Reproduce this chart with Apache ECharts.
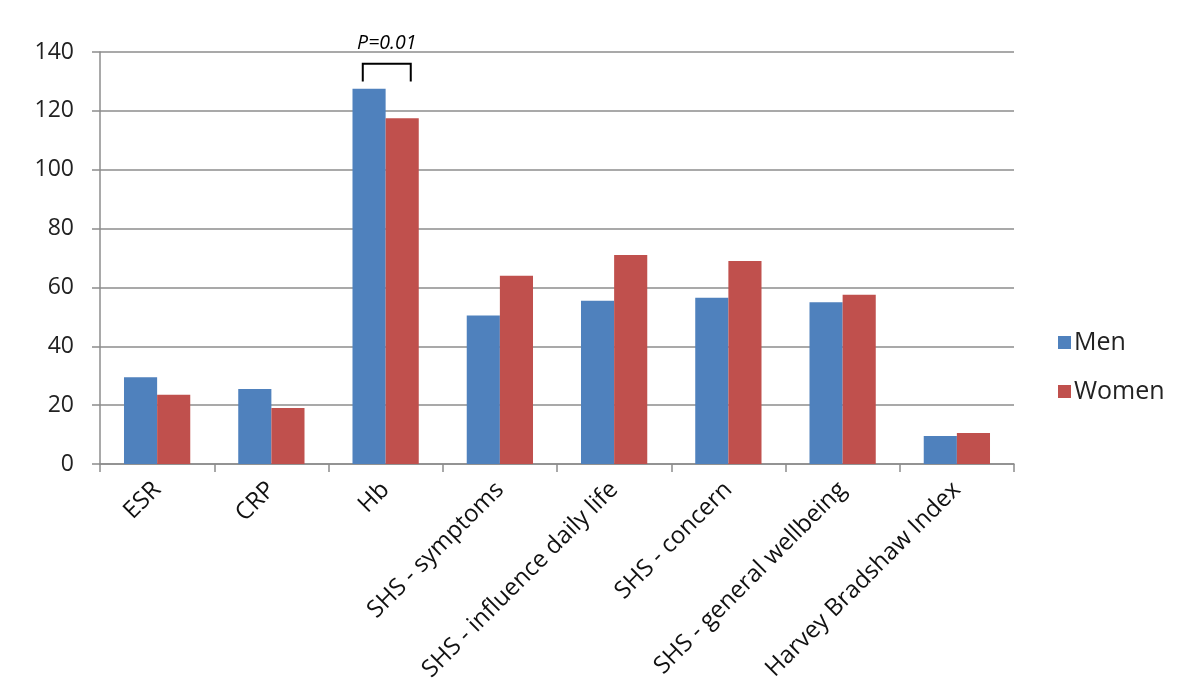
<!DOCTYPE html>
<html>
<head>
<meta charset="utf-8">
<script src="https://cdn.jsdelivr.net/npm/echarts@6/dist/echarts.min.js"></script>
<style>
  html, body { margin: 0; padding: 0; background: #fff; }
  #chart { width: 1200px; height: 698px; }
</style>
</head>
<body>
<div id="chart"></div>
<script>
var categories = ["ESR", "CRP", "Hb", "SHS - symptoms", "SHS - influence daily life", "SHS - concern", "SHS - general wellbeing", "Harvey Bradshaw Index"];
var menValues = [29.5, 25.5, 127.5, 50.5, 55.5, 56.5, 55, 9.5];
var womenValues = [23.5, 19, 117.5, 64, 71, 69, 57.5, 10.5];
// bracket over Hb: [category index, top value, bottom value]
var bracketData = [[2, 136, 130]];
var bracketLabel = "P=0.01";

var myChart = echarts.init(document.getElementById("chart"));
var fontFamily = "'Open Sans', 'Liberation Sans', sans-serif";
var option = {
  animation: false,
  color: ["#4F81BD", "#C0504D"],
  grid: { left: 100, right: 186, top: 52, bottom: 234 },
  legend: {
    orient: "vertical",
    left: 1053,
    top: 325,
    itemWidth: 13,
    itemHeight: 13,
    itemGap: 24,
    icon: "rect",
    textStyle: { fontSize: 25, color: "#222", fontFamily: fontFamily, padding: [0, 0, 0, -2] },
    data: ["Men", "Women"]
  },
  xAxis: {
    type: "category",
    data: categories,
    axisLine: { lineStyle: { color: "#8c8c8c", width: 1.5 } },
    axisTick: { show: true, length: 8, lineStyle: { color: "#8c8c8c", width: 1.5 } },
    axisLabel: {
      interval: 0,
      rotate: 45,
      fontSize: 24,
      color: "#111",
      fontFamily: fontFamily,
      margin: 22
    }
  },
  yAxis: {
    type: "value",
    min: 0,
    max: 140,
    interval: 20,
    axisLine: { show: true, lineStyle: { color: "#8c8c8c", width: 1.5 } },
    axisTick: { show: true, length: 8, lineStyle: { color: "#8c8c8c", width: 1.5 } },
    splitLine: { lineStyle: { color: "#8c8c8c", width: 1.5 } },
    axisLabel: { fontSize: 23, color: "#222", fontFamily: fontFamily, margin: 26 }
  },
  series: [
    {
      name: "Men",
      type: "bar",
      data: menValues,
      barGap: "0%",
      barCategoryGap: "42%"
    },
    {
      name: "Women",
      type: "bar",
      data: womenValues,
      barGap: "0%",
      barCategoryGap: "42%"
    },
    {
      name: "bracket",
      type: "custom",
      data: bracketData,
      z: 10,
      renderItem: function (params, api) {
        var top = api.coord([api.value(0), api.value(1)]);
        var bottom = api.coord([api.value(0), api.value(2)]);
        var band = api.size([1, 0])[0];
        var x1 = top[0] - band * 0.2;
        var x2 = top[0] + band * 0.22;
        return {
          type: "group",
          children: [
            {
              type: "polyline",
              shape: { points: [[x1, bottom[1]], [x1, top[1]], [x2, top[1]], [x2, bottom[1]]] },
              style: { stroke: "#000", lineWidth: 2, fill: null }
            },
            {
              type: "text",
              style: {
                text: bracketLabel,
                x: (x1 + x2) / 2,
                y: top[1] - 10,
                align: "center",
                verticalAlign: "bottom",
                fontSize: 19.5,
                fontStyle: "italic",
                fontFamily: fontFamily,
                fill: "#000"
              }
            }
          ]
        };
      }
    }
  ]
};
myChart.setOption(option);
</script>
</body>
</html>
